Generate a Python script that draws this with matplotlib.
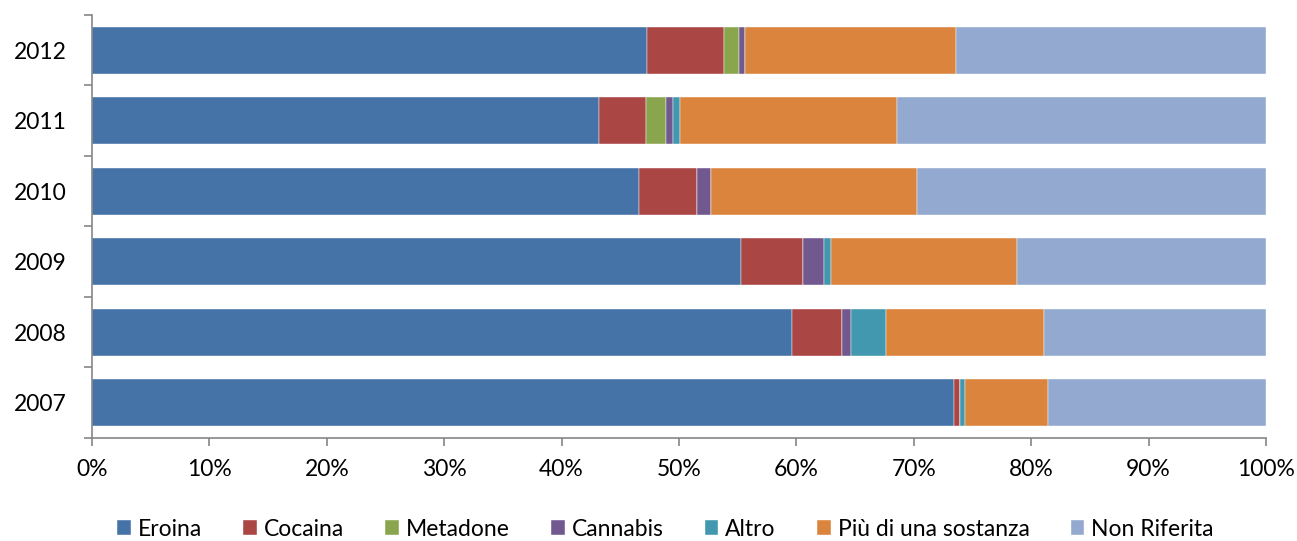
import numpy as np
import matplotlib.pyplot as plt
from matplotlib.ticker import PercentFormatter

plt.rcParams['font.family'] = ['Lato', 'DejaVu Sans']

# dati (percentuali per anno)
anni = ['2007', '2008', '2009', '2010', '2011', '2012']
sostanze = ['Eroina', 'Cocaina', 'Metadone', 'Cannabis', 'Altro',
            'Più di una sostanza', 'Non Riferita']

eroina = [73.4, 59.65, 55.3, 46.6, 43.2, 47.3]
cocaina = [0.5, 4.2, 5.3, 4.9, 4.0, 6.5]
metadone = [0.0, 0.0, 0.0, 0.0, 1.7, 1.3]
cannabis = [0.0, 0.8, 1.75, 1.2, 0.55, 0.55]
altro = [0.45, 2.95, 0.6, 0.0, 0.6, 0.0]
piu_sostanze = [7.1, 13.5, 15.85, 17.6, 18.5, 17.95]
non_riferita = [18.55, 18.9, 21.2, 29.7, 31.45, 26.4]

colori = ['#4572A7', '#AA4643', '#89A54E', '#71588F', '#4198AF',
          '#DB843D', '#93A9CF']

serie = [eroina, cocaina, metadone, cannabis, altro, piu_sostanze, non_riferita]

fig = plt.figure(figsize=(12.97, 5.41), dpi=100)
ax = fig.add_axes([0.0709, 0.1904, 0.9052, 0.7819])

y = np.arange(len(anni))
left = np.zeros(len(anni))
for nome, valori, col in zip(sostanze, serie, colori):
    ax.barh(y, valori, left=left, height=0.66, color=col, label=nome,
            edgecolor='white', linewidth=0.3)
    left += np.array(valori)

ax.set_xlim(0, 100)
ax.set_ylim(-0.5, len(anni) - 0.5)
ax.set_xticks(np.arange(0, 101, 10))
ax.xaxis.set_major_formatter(PercentFormatter(decimals=0))
ax.set_yticks(y)
ax.set_yticklabels(anni)
ax.set_yticks(np.arange(-0.5, len(anni), 1), minor=True)

for s in ['top', 'right']:
    ax.spines[s].set_visible(False)
for s in ['left', 'bottom']:
    ax.spines[s].set_color('#868686')
    ax.spines[s].set_linewidth(1.2)

ax.tick_params(axis='y', which='major', length=0, pad=18, labelsize=16.5)
ax.tick_params(axis='y', which='minor', length=6, color='#868686', width=1.2)
ax.tick_params(axis='x', length=6, color='#868686', width=1.2, pad=9, labelsize=16.5)

fig.legend(loc='center', bbox_to_anchor=(0.513, 0.022), ncol=7, frameon=False,
           fontsize=16.5, handlelength=0.6, handleheight=0.6, handletextpad=0.3,
           columnspacing=1.8)

plt.savefig('out.png', dpi=100)
